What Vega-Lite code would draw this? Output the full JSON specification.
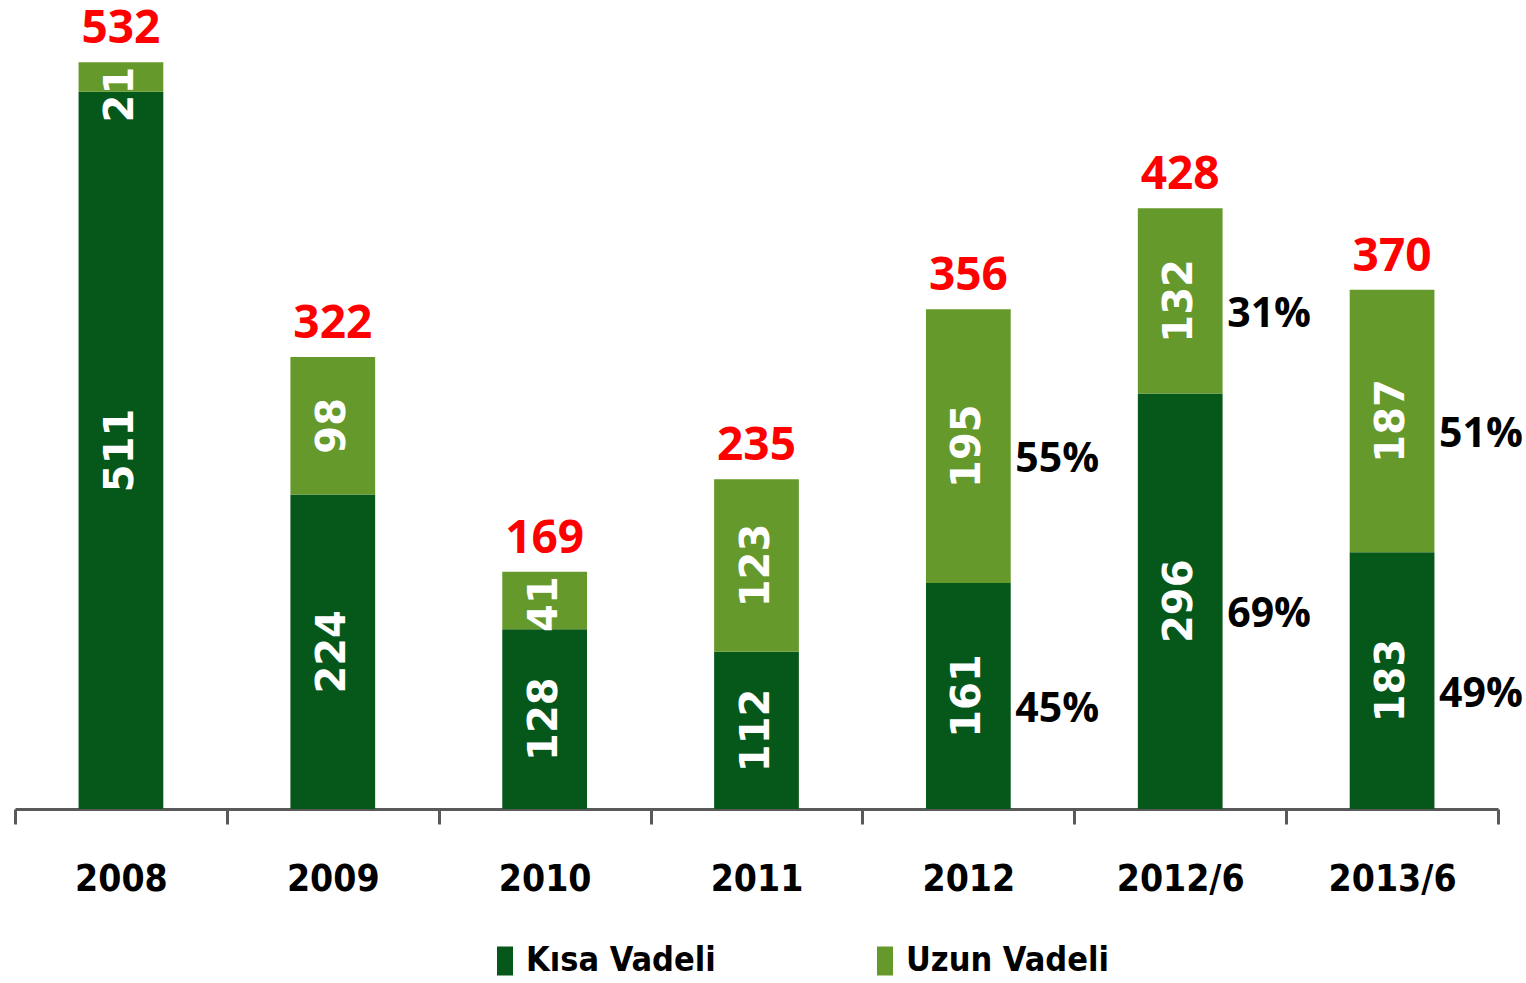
{
  "$schema": "https://vega.github.io/schema/vega-lite/v6.json",
  "width": 1483,
  "height": 786,
  "autosize": {"type": "none"},
  "padding": {"left": 15, "top": 23, "right": 28, "bottom": 174},
  "background": "white",
  "config": {"view": {"stroke": null}},
  "data": {
    "values": [
      {"cat": "2008", "series": "Kısa Vadeli", "value": 511, "pct": null},
      {"cat": "2008", "series": "Uzun Vadeli", "value": 21, "pct": null},
      {"cat": "2009", "series": "Kısa Vadeli", "value": 224, "pct": null},
      {"cat": "2009", "series": "Uzun Vadeli", "value": 98, "pct": null},
      {"cat": "2010", "series": "Kısa Vadeli", "value": 128, "pct": null},
      {"cat": "2010", "series": "Uzun Vadeli", "value": 41, "pct": null},
      {"cat": "2011", "series": "Kısa Vadeli", "value": 112, "pct": null},
      {"cat": "2011", "series": "Uzun Vadeli", "value": 123, "pct": null},
      {"cat": "2012", "series": "Kısa Vadeli", "value": 161, "pct": "45%"},
      {"cat": "2012", "series": "Uzun Vadeli", "value": 195, "pct": "55%"},
      {"cat": "2012/6", "series": "Kısa Vadeli", "value": 296, "pct": "69%"},
      {"cat": "2012/6", "series": "Uzun Vadeli", "value": 132, "pct": "31%"},
      {"cat": "2013/6", "series": "Kısa Vadeli", "value": 183, "pct": "49%"},
      {"cat": "2013/6", "series": "Uzun Vadeli", "value": 187, "pct": "51%"}
    ]
  },
  "transform": [
    {"stack": "value", "groupby": ["cat"], "sort": [{"field": "series", "order": "ascending"}], "as": ["v0", "v1"]},
    {"calculate": "(datum.v0 + datum.v1) / 2", "as": "mid"},
    {"calculate": "min(datum.mid, datum.v1 - 23)", "as": "labelPos"}
  ],
  "encoding": {
    "x": {
      "field": "cat",
      "type": "nominal",
      "sort": null,
      "scale": {"paddingInner": 0, "paddingOuter": 0},
      "axis": {
        "title": null,
        "labelAngle": 0,
        "labelFont": "DejaVu Sans Condensed",
        "labelFontWeight": "bold",
        "labelFontSize": 37,
        "labelColor": "#000000",
        "labelPadding": 37,
        "labelBaseline": "top",
        "domainColor": "#595959",
        "domainWidth": 3,
        "tickColor": "#595959",
        "tickWidth": 3,
        "tickSize": 15,
        "tickBand": "extent"
      }
    }
  },
  "layer": [
    {
      "mark": {"type": "bar", "width": {"band": 0.4}},
      "encoding": {
        "y": {"field": "v0", "type": "quantitative", "scale": {"domain": [0, 560], "nice": false}, "axis": null},
        "y2": {"field": "v1"},
        "color": {
          "field": "series",
          "type": "nominal",
          "scale": {"domain": ["Kısa Vadeli", "Uzun Vadeli"], "range": ["#05571A", "#66992B"]},
          "legend": {
            "title": null,
            "orient": "none",
            "direction": "horizontal",
            "legendX": 473,
            "legendY": 921,
            "symbolType": "M-0.55,-1V1H0.55V-1Z",
            "symbolSize": 841,
            "symbolStrokeWidth": 0,
            "labelFont": "DejaVu Sans Condensed",
            "labelFontWeight": "bold",
            "labelFontSize": 34,
            "labelColor": "#000000",
            "labelOffset": 4,
            "labelLimit": 400,
            "columnPadding": 152
          }
        }
      }
    },
    {
      "mark": {"type": "text", "angle": 270, "align": "center", "baseline": "middle", "font": "DejaVu Sans", "fontWeight": "bold", "fontSize": 40, "color": "#FFFFFF"},
      "encoding": {
        "y": {"field": "labelPos", "type": "quantitative"},
        "text": {"field": "value", "type": "quantitative"}
      }
    },
    {
      "transform": [{"filter": "datum.pct != null"}],
      "mark": {"type": "text", "align": "left", "baseline": "middle", "dx": 47, "dy": 14, "font": "Open Sans", "fontWeight": "bold", "fontSize": 41, "color": "#000000"},
      "encoding": {
        "y": {"field": "mid", "type": "quantitative"},
        "text": {"field": "pct", "type": "nominal"}
      }
    },
    {
      "transform": [{"aggregate": [{"op": "sum", "field": "value", "as": "total"}], "groupby": ["cat"]}],
      "mark": {"type": "text", "align": "center", "baseline": "alphabetic", "dy": -19, "font": "Open Sans", "fontWeight": "bold", "fontSize": 46, "color": "#FF0000"},
      "encoding": {
        "y": {"field": "total", "type": "quantitative"},
        "text": {"field": "total", "type": "quantitative"}
      }
    }
  ]
}
